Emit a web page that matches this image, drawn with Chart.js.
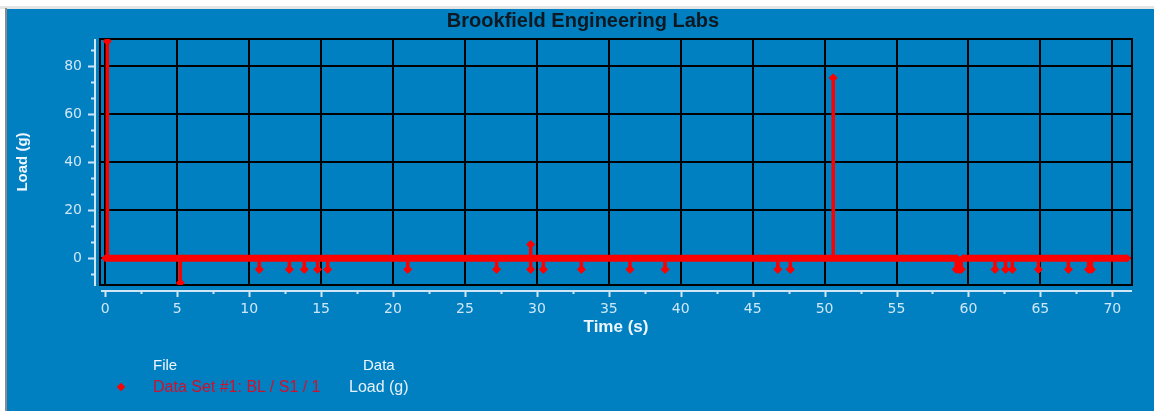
<!DOCTYPE html>
<html>
<head>
<meta charset="utf-8">
<title>Brookfield Engineering Labs</title>
<script src="https://cdn.jsdelivr.net/npm/chart.js@4.4.1/dist/chart.umd.min.js"></script>
<style>
    html, body { margin: 0; padding: 0; background: #fff; overflow: hidden; }
    #wrap { position: relative; width: 1154px; height: 411px; }
    #loadChart { position: absolute; left: 0; top: 0; }
    .txt { position: absolute; white-space: nowrap; font-family: "Liberation Sans", Arial, sans-serif; }
    #chartTitle { left: 583px; top: 10px; transform: translateX(-50%); font-size: 20px; line-height: 20px; font-weight: bold; color: #0d1822; }
    .legend-head { top: 357px; font-size: 15px; line-height: 16px; color: #eef6ff; }
    .legend-row { top: 379px; font-size: 16px; line-height: 16px; }
    #legendMark { position: absolute; left: 118px; top: 384px; width: 6px; height: 6px; background: #ff0000; transform: rotate(45deg); }
</style>
</head>
<body>
<div id="wrap">
    <canvas id="loadChart" width="1154" height="411"></canvas>
    <div id="chartTitle" class="txt">Brookfield Engineering Labs</div>
    <div class="txt legend-head" style="left:153px">File</div>
    <div class="txt legend-head" style="left:363px">Data</div>
    <div id="legendMark"></div>
    <div class="txt legend-row" style="left:153px; color:#d0102e">Data Set #1: BL / S1 / 1</div>
    <div class="txt legend-row" style="left:349px; color:#e6f0fa">Load (g)</div>
</div>

<script>
// Stems: time (s) and the load (g) each stem reaches
const eventTime = [0.14, 5.21, 10.70, 12.79, 13.83, 14.76, 15.46, 21.02, 27.20, 29.57, 29.57,
                   30.45, 33.09, 36.47, 38.91, 46.75, 47.62, 50.60, 59.15, 59.35, 59.50,
                   61.85, 62.58, 63.05, 64.87, 66.95, 68.35, 68.55];
const eventLoad = [90.5, -10.2, -4.6, -4.6, -4.6, -4.6, -4.6, -4.6, -4.6, 5.8, -4.6,
                   -4.6, -4.6, -4.6, -4.6, -4.6, -4.6, 75.2, -4.6, -4.6, -4.6,
                   -4.6, -4.6, -4.6, -4.6, -4.6, -4.6, -4.6];

// Baseline (load sits at 0 g), broken briefly near 59.4 s
const baseTime = [0, 59.20, 59.40, 59.60, 71.05];
const baseLoad = [0, 0, null, 0, 0];

// Axis ranges and tick steps
const timeRange = [-0.37, 71.37];
const loadRange = [-11.1, 91.4];
const timeStep = 5;
const loadStep = 20;

// Build the stem trace: out from 0 to the value and back at each event time
function buildTrace() {
    const pts = [{ x: baseTime[0], y: 0 }];
    eventTime.forEach((t, i) => {
        pts.push({ x: t, y: 0 });
        pts.push({ x: t, y: eventLoad[i] });
        pts.push({ x: t, y: 0 });
    });
    pts.push({ x: baseTime[baseTime.length - 1], y: 0 });
    return pts;
}

const basePoints = baseTime.map((t, i) => ({ x: t, y: baseLoad[i] }));

const axisLight = '#cfe6f7';
const tickFont = { family: 'DejaVu Sans', size: 14 };

// Page backdrop: white margin, grey edge, blue panel
const backdrop = {
    id: 'backdrop',
    beforeDraw(chart) {
        const c = chart.ctx;
        c.save();
        c.fillStyle = '#ffffff';
        c.fillRect(0, 0, chart.width, chart.height);
        c.fillStyle = '#e4e4e4';
        c.fillRect(0, 6, chart.width, 3);
        c.fillStyle = '#8a8a8a';
        c.fillRect(5, 8, 2, chart.height - 8);
        c.fillStyle = '#0080c0';
        c.fillRect(7, 9, chart.width - 7, chart.height - 9);
        c.restore();
    }
};

// Black frame round the plot area
const plotFrame = {
    id: 'plotFrame',
    beforeDatasetsDraw(chart) {
        const a = chart.chartArea;
        const c = chart.ctx;
        c.save();
        c.strokeStyle = '#000000';
        c.lineWidth = 2;
        c.strokeRect(a.left, a.top, a.right - a.left, a.bottom - a.top);
        c.restore();
    }
};

// Detached light axis lines with major and minor ticks
const axisLines = {
    id: 'axisLines',
    afterDraw(chart) {
        const a = chart.chartArea;
        const xs = chart.scales.x;
        const ys = chart.scales.y;
        const c = chart.ctx;
        c.save();
        c.strokeStyle = axisLight;
        c.lineWidth = 2;

        // y axis
        const yx = a.left - 5;
        c.beginPath();
        c.moveTo(yx, a.top);
        c.lineTo(yx, a.bottom + 1);
        for (let v = -loadStep; v <= loadRange[1]; v += loadStep / 3) {
            if (v < loadRange[0]) continue;
            const py = Math.round(ys.getPixelForValue(v)) + 0.5;
            const major = Math.abs(v / loadStep - Math.round(v / loadStep)) < 1e-6;
            c.moveTo(yx, py);
            c.lineTo(yx - (major ? 7 : 4), py);
        }
        c.stroke();

        // x axis
        const xy = a.bottom + 6;
        c.beginPath();
        c.moveTo(a.left + 1, xy);
        c.lineTo(a.right, xy);
        for (let v = 0; v <= timeRange[1]; v += timeStep / 2) {
            const px = Math.round(xs.getPixelForValue(v)) + 0.5;
            const major = Math.abs(v / timeStep - Math.round(v / timeStep)) < 1e-6;
            c.moveTo(px, xy);
            c.lineTo(px, xy + (major ? 6 : 3));
        }
        c.stroke();
        c.restore();
    }
};

new Chart(document.getElementById('loadChart'), {
    type: 'scatter',
    data: {
        datasets: [{
            label: 'Baseline',
            data: basePoints,
            showLine: true,
            spanGaps: false,
            borderColor: '#ff0000',
            backgroundColor: '#ff0000',
            borderWidth: 7,
            pointStyle: 'rectRot',
            pointRadius: 4,
            pointBorderWidth: 0
        }, {
            label: 'Data Set #1: BL / S1 / 1',
            data: buildTrace(),
            showLine: true,
            borderColor: '#ff0000',
            backgroundColor: '#ff0000',
            borderWidth: 3.5,
            pointStyle: 'rectRot',
            pointRadius: ctx => (ctx.raw && ctx.raw.y !== 0 ? 4 : 0),
            pointBorderWidth: 1,
            pointBorderColor: '#ff0000'
        }]
    },
    options: {
        responsive: false,
        animation: false,
        events: [],
        layout: { padding: { left: 0, right: 22, top: 39, bottom: 73 } },
        plugins: {
            legend: { display: false },
            tooltip: { enabled: false },
            title: { display: false }
        },
        scales: {
            x: {
                type: 'linear',
                min: timeRange[0],
                max: timeRange[1],
                afterFit: s => { s.height = 53; },
                grid: { color: '#000000', lineWidth: 2, drawTicks: false },
                border: { display: false },
                ticks: { stepSize: timeStep, includeBounds: false, padding: 16, color: axisLight, font: tickFont, maxRotation: 0 },
                title: { display: true, text: 'Time (s)', color: '#eef6ff', font: { family: 'Liberation Sans', size: 17, weight: 'bold' }, padding: { top: 0, bottom: 0 } }
            },
            y: {
                type: 'linear',
                min: loadRange[0],
                max: loadRange[1],
                afterFit: s => { s.width = 100; },
                grid: { color: '#000000', lineWidth: 2, drawTicks: false },
                border: { display: false },
                ticks: { stepSize: loadStep, includeBounds: false, padding: 18, color: axisLight, font: tickFont },
                title: { display: true, text: 'Load (g)', color: '#eef6ff', font: { family: 'Liberation Sans', size: 15, weight: 'bold' }, padding: { top: 14, bottom: 0 } }
            }
        }
    },
    plugins: [backdrop, plotFrame, axisLines]
});
</script>
</body>
</html>
